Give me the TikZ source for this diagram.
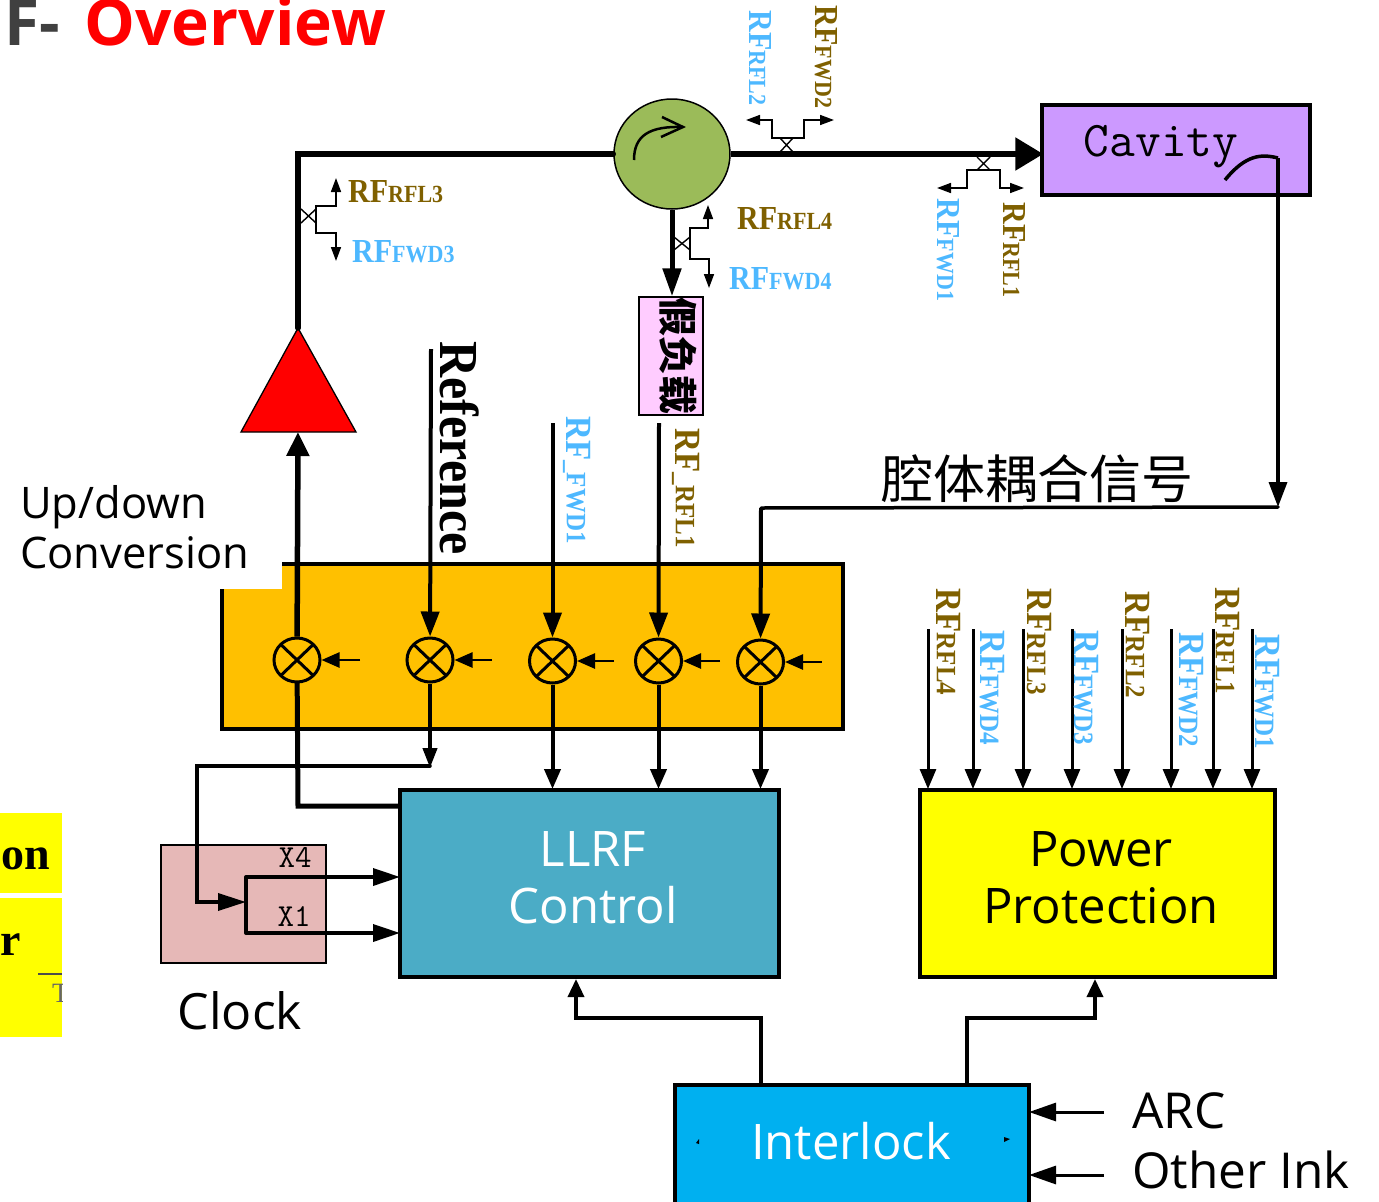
\documentclass[tikz,border=0pt]{standalone}
\usepackage{fontspec}
\setmainfont{Open Sans}
\newfontfamily\labelfont{Liberation Serif}
\newfontfamily\cjk{Noto Sans CJK SC}
\usepackage{tikz}
\usetikzlibrary{arrows.meta}
\usetikzlibrary{shapes.geometric}
\usetikzlibrary{calc}
\definecolor{sigbrown}{HTML}{7F6000}
\definecolor{sigblue}{HTML}{4DB8FF}
\definecolor{protyellow}{HTML}{FFFF00}
\newcommand{\fsz}[1]{\fontsize{#1}{#1}\selectfont}
\newcommand{\rfsig}[1]{\scalebox{1}[1.12]{\labelfont\bfseries\fsz{30}RF\fsz{22}#1}}
\newcommand{\rfsigbig}[1]{\scalebox{1}[1.12]{\labelfont\bfseries\fsz{33}RF\fsz{25}#1}}
\tikzset{
	box/.style={draw, rectangle, inner sep=0pt, line width=4pt, align=center},
	maintext/.style={font=\fsz{49}, text=white, align=center},
	mixer/.style={draw, ellipse, inner sep=0pt, line width=3pt, minimum width=46pt, minimum height=44pt,
		path picture={\draw[line width=3pt] (path picture bounding box.north west) -- (path picture bounding box.south east)
			(path picture bounding box.north east) -- (path picture bounding box.south west);}},
	thick sig/.style={line width=5.5pt, -{Triangle[length=24pt,width=22pt]}},
	mid sig/.style={line width=4pt, -{Triangle[length=25pt,width=18pt]}},
	low sig/.style={line width=3.5pt, -{Triangle[length=14pt,width=14pt]}},
	lo sig/.style={line width=2.5pt, -{Triangle[length=18pt,width=15pt]}},
	prot sig/.style={line width=3pt, shorten >=-1pt, -{Triangle[length=20pt,width=16pt]}},
	tap/.style={line width=1.6pt, {Triangle[length=14pt,width=10pt]}-{Triangle[length=14pt,width=10pt]}},
	cross/.style={line width=1.4pt},
	upright/.style={rotate=-90, inner sep=0pt},
}
\begin{document}
\begin{tikzpicture}[x=1pt,y=-1pt]
	\useasboundingbox (0,0) rectangle (1379,1202);

	\node[anchor=base east, font=\bfseries\fsz{64}, text=black!75] (titleA) at (64,45) {F-};
	\node[anchor=base west, font=\bfseries\fsz{64}, text=red] (titleB) at (81,45) {Overview};

	\node[rectangle, fill=protyellow, inner sep=0pt, minimum width=62pt, minimum height=80pt] (scrapA) at (31,853) {};
	\node[rectangle, fill=protyellow, inner sep=0pt, minimum width=62pt, minimum height=139pt] (scrapB) at (31,967.5) {};
	\node[anchor=base east, inner sep=0pt, font=\labelfont\bfseries\fsz{46}] (scrapTextA) at (50,869) {on};
	\node[anchor=base east, inner sep=0pt, font=\labelfont\bfseries\fsz{46}] (scrapTextB) at (21,955) {r};
	\coordinate (scrapRuleA) at (38,974);
	\coordinate (scrapRuleB) at (62,974);
	\draw[line width=1.5pt, black!70] (scrapRuleA) -- (scrapRuleB);
	\begin{scope}
		\clip (0,898) rectangle (62,1037);
		\node[anchor=base west, inner sep=0pt, text=black!60, font=\labelfont\fsz{28}] (scrapTextC) at (52,1002) {T};
	\end{scope}

	\node[box, fill={rgb,255:red,255;green,192;blue,0}, minimum width=621pt, minimum height=165pt] (updown) at (532.5,646.5) {};
	\fill[white] (10,480) rectangle (282,589);
	\node[anchor=west, align=left, inner sep=0pt, font=\fsz{43.5}] (updownText) at (20,527) {Up/down\\[7pt]Conversion};

	\node[mixer] (mixA) at (297,660) {};
	\node[mixer] (mixB) at (430,660) {};
	\node[mixer] (mixC) at (552.5,661) {};
	\node[mixer] (mixD) at (658.5,661) {};
	\node[mixer] (mixE) at (760.5,662) {};

	\coordinate (loA) at (360,660);
	\coordinate (loB) at (492,660);
	\coordinate (loC) at (614,661);
	\coordinate (loD) at (720,661);
	\coordinate (loE) at (822,662);
	\path[lo sig]
	(loA) edge (mixA)
	(loB) edge (mixB)
	(loC) edge (mixC)
	(loD) edge (mixD)
	(loE) edge (mixE)
	;

	\node[box, fill={rgb,255:red,75;green,172;blue,198}, minimum width=379pt, minimum height=187pt] (llrf) at (589.5,883.5) {};
	\node[maintext] (llrfText) at (593,878) {LLRF\\[8pt]Control};
	\node[box, fill=protyellow, minimum width=355pt, minimum height=187pt] (power) at (1097.5,883.5) {};
	\node[maintext, text=black] (powerText) at (1101,878) {Power\\[8pt]Protection};
	\node[box, fill={rgb,255:red,0;green,176;blue,240}, minimum width=354pt, minimum height=130pt] (interlock) at (852,1150) {};
	\node[maintext] (interlockText) at (851,1141) {Interlock};
	\fill (696,1143) -- (699,1139) -- (699,1144) -- cycle;
	\fill (1004,1137) -- (1010,1139) -- (1004,1142) -- cycle;

	\node[draw, rectangle, inner sep=0pt, line width=1.3pt, fill={rgb,255:red,230;green,184;blue,183}, minimum width=165pt, minimum height=118pt] (clock) at (243.5,904) {};
	\node[inner sep=0pt, font=\ttfamily\fsz{32}] (xFour) at (295,857) {X4};
	\node[inner sep=0pt, font=\ttfamily\fsz{32}] (xOne) at (294,917) {X1};
	\node[inner sep=0pt, font=\fsz{50}] (clockText) at (240,1011) {Clock};

	\coordinate (split) at (246,902);
	\coordinate (splitUp) at (246,877);
	\coordinate (splitDown) at (246,933);
	\draw[line width=4pt, line cap=round] (splitUp) -- (splitDown);
	\draw[low sig, shorten >=-2pt, -{Triangle[length=27pt,width=17pt]}] (splitUp) -- (splitUp -| llrf.west);
	\draw[low sig, shorten >=-2pt, -{Triangle[length=27pt,width=17pt]}] (splitDown) -- (splitDown -| llrf.west);

	\node[draw, ellipse, inner sep=0pt, line width=1.5pt, fill={rgb,255:red,155;green,187;blue,89}, minimum width=116pt, minimum height=110pt] (circ) at (672,154) {};
	\draw[line width=2.5pt] (634,160) .. controls (634,135) and (650,126) .. (683,127);
	\draw[line width=2.5pt] (662,117) -- (683,127) -- (661,137);

	\node[box, line width=3.5pt, fill={rgb,255:red,204;green,153;blue,255}, minimum width=268pt, minimum height=90pt] (cavity) at (1176,150) {};
	\node[inner sep=0pt, font=\ttfamily\fsz{50}] (cavityText) at (1161,147) {Cavity};
	\coordinate (tapCavity) at (1278,158);
	\coordinate (tapHook) at (1225,180);
	\draw[line width=3.5pt] (tapHook) .. controls (1246,154) and (1262,154) .. (tapCavity);

	\coordinate (ampTop) at (298,328);
	\coordinate (ampLeft) at (241,432);
	\coordinate (ampRight) at (356,432);
	\coordinate (ampIn) at (298,432);
	\draw[line width=1.3pt, fill=red] (ampTop) -- (ampLeft) -- (ampRight) -- cycle;

	\coordinate (bendAmp) at (298,154);
	\draw[line width=5.5pt, line cap=round] (ampTop) -- (bendAmp) -- (circ);
	\draw[thick sig, shorten >=-3pt, -{Triangle[length=28pt,width=32pt]}] (circ) -- (cavity.west |- circ);
	\draw[thick sig] (mixA) -- (ampIn);

	\node[draw, rectangle, inner sep=0pt, line width=1.3pt, fill={rgb,255:red,255;green,204;blue,255}, minimum width=64pt, minimum height=118pt] (dummy) at (671,356) {};
	\node[upright, font=\cjk\bfseries\fsz{39}] (dummyText) at (678,356) {假负载};
	\draw[thick sig, line width=5pt, -{Triangle[length=28pt,width=18pt]}] (circ) -- (circ |- dummy.north);

	\coordinate (refIn) at (431,349);
	\coordinate (fwdIn) at (552.5,423);
	\coordinate (rflIn) at (659,423);
	\coordinate (pickup) at (1278,507);
	\coordinate (pickupEnd) at (761,508);
	\draw[line width=3.5pt] (tapCavity) -- (1278,482);
	\draw[line width=3.5pt, -{Triangle[length=25pt,width=18pt]}] (1278,480) -- (pickup);
	\draw[line width=3.5pt, line cap=round] (pickup) -- (pickupEnd);
	\path[mid sig]
	(refIn) edge (mixB)
	(fwdIn) edge (mixC)
	(rflIn) edge (mixD)
	(pickupEnd) edge (mixE)
	;
	\node[inner sep=0pt, font=\cjk\fsz{52}] (pickupText) at (1037,479) {腔体耦合信号};
	\node[upright, font=\labelfont\bfseries] (refText) at (460,448) {\scalebox{1}[1.1]{\fsz{50}Reference}};
	\node[upright, text=sigblue] (fwdText) at (577,480) {\rfsigbig{\_FWD1}};
	\node[upright, text=sigbrown] (rflText) at (686,488) {\rfsigbig{\_RFL1}};

	\coordinate (mixBOut) at (430,768);
	\coordinate (clockBendA) at (197,766);
	\coordinate (clockBendB) at (197,902);
	\draw[line width=4pt, -{Triangle[length=20pt,width=14pt]}] (mixB) -- (mixBOut);
	\draw[line width=3.5pt, line cap=round, -{Triangle[length=28pt,width=17pt]}] (mixBOut |- clockBendA) -- (clockBendA) -- (clockBendB) -- (split);

	\draw[line width=5pt, line cap=round] (mixA) -- (298,806) -- (llrf.west |- 298,806);
	\path[line width=4pt, shorten >=-1pt, -{Triangle[length=20pt,width=16pt]}]
	(mixC) edge (mixC |- llrf.north)
	(mixD) edge (mixD |- llrf.north)
	(mixE) edge (mixE |- llrf.north)
	;

	\coordinate (interlockLeft) at (761,1085);
	\coordinate (interlockRight) at (967,1085);
	\draw[line width=3.5pt, -{Triangle[length=18pt,width=16pt]}] (interlockLeft) -- (761,1018) -- (576,1018) -- (576,979);
	\draw[line width=3.5pt, -{Triangle[length=18pt,width=16pt]}] (interlockRight) -- (967,1018) -- (1095,1018) -- (1095,979);

	\coordinate (arcIn) at (1104,1112);
	\coordinate (inkIn) at (1104,1175);
	\draw[line width=3pt, shorten >=-2pt, -{Triangle[length=27pt,width=18pt]}] (arcIn) -- (arcIn -| interlock.east);
	\draw[line width=3pt, shorten >=-2pt, -{Triangle[length=27pt,width=18pt]}] (inkIn) -- (inkIn -| interlock.east);
	\node[anchor=west, inner sep=0pt, font=\fsz{49.5}] (arcText) at (1132,1111) {ARC};
	\node[anchor=west, inner sep=0pt, font=\fsz{49.5}] (inkText) at (1132,1170) {Other Ink};

	\coordinate (tapAa) at (746,120);
	\coordinate (tapAb) at (834,120);
	\draw[tap] (tapAa) -- (772,120) -- (772,138) -- (804,138) -- (804,120) -- (tapAb);
	\draw[cross] (780,138) -- (793,152) (793,138) -- (780,152);
	\node[upright, text=sigblue] (tapAText) at (760,58) {\rfsig{RFL2}};
	\node[upright, text=sigbrown] (tapBText) at (826,57) {\rfsig{FWD2}};

	\coordinate (tapBa) at (937,188);
	\coordinate (tapBb) at (1024,188);
	\draw[tap] (tapBa) -- (967,188) -- (967,170) -- (1000,170) -- (1000,188) -- (tapBb);
	\draw[cross] (977,157) -- (990,170) (990,157) -- (977,170);
	\node[upright, text=sigblue] (tapCText) at (948,250) {\rfsig{FWD1}};
	\node[upright, text=sigbrown] (tapDText) at (1014,250) {\rfsig{RFL1}};

	\coordinate (tapCa) at (336,178);
	\coordinate (tapCb) at (336,261);
	\draw[tap] (tapCa) -- (336,206) -- (316,206) -- (316,233) -- (336,233) -- (tapCb);
	\draw[cross] (301,209) -- (316,223) (316,209) -- (301,223);
	\node[anchor=west, inner sep=0pt, text=sigbrown] (tapEText) at (348,192) {\rfsig{RFL3}};
	\node[anchor=west, inner sep=0pt, text=sigblue] (tapFText) at (352,252) {\rfsig{FWD3}};

	\coordinate (tapDa) at (708,205);
	\coordinate (tapDb) at (709,288);
	\draw[tap] (tapDa) -- (708,228) -- (690,228) -- (690,259) -- (709,259) -- (tapDb);
	\draw[cross] (674,237) -- (690,250) (690,237) -- (674,250);
	\node[anchor=west, inner sep=0pt, text=sigbrown] (tapGText) at (737,218) {\rfsig{RFL4}};
	\node[anchor=west, inner sep=0pt, text=sigblue] (tapHText) at (729,279) {\rfsig{FWD4}};

	\foreach \px/\pname in {928/a,973/b,1023/c,1072/d,1122/e,1171/f,1213/g,1252/h}
	{
		\coordinate (prot\pname) at (\px,629);
		\draw[prot sig] (prot\pname) -- (prot\pname |- power.north);
	}
	\node[upright, text=sigbrown] at (949,642) {\rfsigbig{RFL4}};
	\node[upright, text=sigblue] at (992,688) {\rfsigbig{FWD4}};
	\node[upright, text=sigbrown] at (1039,642) {\rfsigbig{RFL3}};
	\node[upright, text=sigblue] at (1086,688) {\rfsigbig{FWD3}};
	\node[upright, text=sigbrown] at (1138,645) {\rfsigbig{RFL2}};
	\node[upright, text=sigblue] at (1191,690) {\rfsigbig{FWD2}};
	\node[upright, text=sigbrown] at (1228,641) {\rfsigbig{RFL1}};
	\node[upright, text=sigblue] at (1267,692) {\rfsigbig{FWD1}};
\end{tikzpicture}
\end{document}
